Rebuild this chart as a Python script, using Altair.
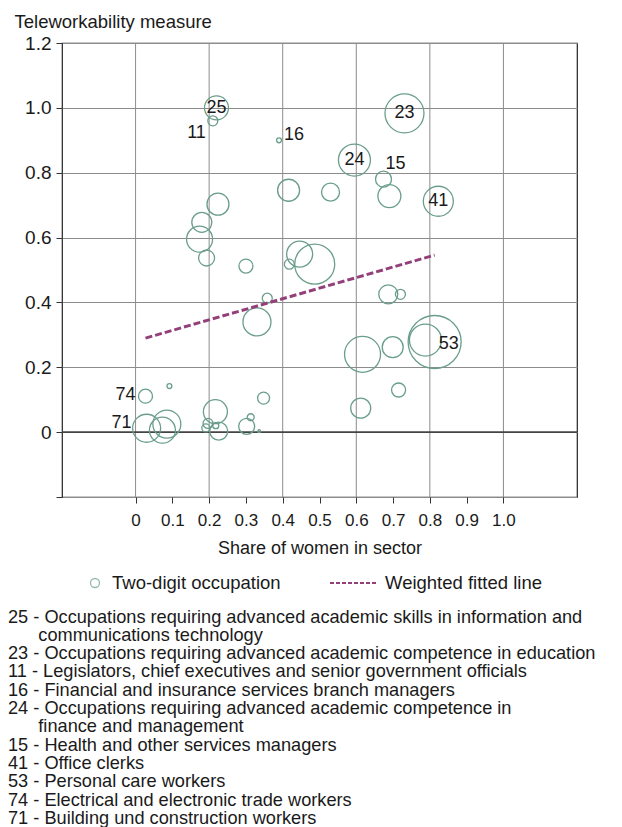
import altair as alt
import pandas as pd

FONT = "Liberation Sans"
TEXT = "#1a1a1a"
BUBBLE = "#6a9e8a"
FIT = "#93407a"

# ---- data ----
codes = ["25", "11", "16", "23", "24", "15", "", "41", "", "", "", "", "", "",
         "", "", "", "", "", "", "", "", "", "", "", "53", "", "", "74", "",
         "71", "", "", "", "", "", "", "", "", "", "", ""]
share_women = [0.22, 0.21, 0.39, 0.731, 0.595, 0.674, 0.69, 0.823, 0.53, 0.416,
               0.224, 0.18, 0.174, 0.193, 0.30, 0.418, 0.446, 0.487, 0.358, 0.33,
               0.687, 0.72, 0.617, 0.699, 0.788, 0.813, 0.715, 0.612, 0.027, 0.092,
               0.03, 0.073, 0.085, 0.217, 0.197, 0.191, 0.218, 0.226, 0.302, 0.313,
               0.336, 0.348]
telework = [1.00, 0.96, 0.90, 0.983, 0.839, 0.78, 0.728, 0.712, 0.74, 0.746,
            0.703, 0.647, 0.595, 0.537, 0.512, 0.518, 0.549, 0.518, 0.413, 0.34,
            0.425, 0.425, 0.24, 0.262, 0.284, 0.278, 0.13, 0.074, 0.111, 0.142,
            0.012, 0.006, 0.025, 0.063, 0.027, 0.013, 0.02, 0.003, 0.018, 0.046,
            0.003, 0.105]
employment = [144, 25, 6, 380, 256, 64, 132, 225, 81, 121,
              121, 100, 169, 64, 49, 25, 169, 400, 25, 196,
              90, 25, 324, 110, 256, 702, 49, 100, 49, 6,
              196, 169, 196, 144, 25, 16, 9, 81, 64, 12,
              2, 36]

fit_share = [0.027, 0.813]
fit_telework = [0.29, 0.546]

x_ticks = [0.0, 0.1, 0.2, 0.3, 0.4, 0.5, 0.6, 0.7, 0.8, 0.9, 1.0]
x_grid = [0.0, 0.2, 0.4, 0.6, 0.8, 1.0]
y_ticks = [-0.2, 0.0, 0.2, 0.4, 0.6, 0.8, 1.0, 1.2]

# zero-width space first so the hanging indent is not trimmed away
INDENT = "\u200b" + "\u00a0" * 6
footnotes = [
    "25 - Occupations requiring advanced academic skills in information and",
    INDENT + "communications technology",
    "23 - Occupations requiring advanced academic competence in education",
    "11 - Legislators, chief executives and senior government officials",
    "16 - Financial and insurance services branch managers",
    "24 - Occupations requiring advanced academic competence in",
    INDENT + "finance and management",
    "15 - Health and other services managers",
    "41 - Office clerks",
    "53 - Personal care workers",
    "74 - Electrical and electronic trade workers",
    "71 - Building und construction workers",
]

legend_items = ["Two-digit occupation", "Weighted fitted line"]

# ---- tables ----
bubbles = pd.DataFrame({"code": codes, "share": share_women,
                        "telework": telework, "employment": employment})
fit_df = pd.DataFrame({"share": fit_share, "telework": fit_telework})
xgrid_df = pd.DataFrame({"share": x_grid})
zero_df = pd.DataFrame({"telework": [0.0]})

W, H = 515, 454

xs = alt.Scale(domain=[-0.2, 1.2], nice=False, zero=False)
ys = alt.Scale(domain=[-0.2, 1.2], nice=False, zero=False)

x_axis = alt.Axis(values=x_ticks,
                  labelExpr="datum.value == 0 ? '0' : format(datum.value, '.1f')",
                  title="Share of women in sector", grid=False, domain=False,
                  tickSize=6, tickColor="#333", labelFontSize=17, labelFont=FONT,
                  labelColor=TEXT, labelPadding=9, titleFontSize=18, titleFont=FONT,
                  titleColor=TEXT, titleFontWeight="normal", titlePadding=11)
y_axis = alt.Axis(values=y_ticks,
                  labelExpr="datum.value < -0.01 ? '' : (abs(datum.value) < 1e-9 ? '0' : format(datum.value, '.1f'))",
                  grid=True, gridColor="#8c8c8c", gridWidth=1, domain=False,
                  tickSize=6, tickColor="#333", labelFontSize=19, labelFont=FONT,
                  labelColor=TEXT, labelPadding=5,
                  title="Teleworkability measure", titleAngle=0, titleAlign="left",
                  titleBaseline="middle", titleX=-48, titleY=-22, titleFontSize=18.5,
                  titleFont=FONT, titleColor=TEXT, titleFontWeight="normal")

x_enc = alt.X("share:Q", scale=xs, axis=x_axis)
y_enc = alt.Y("telework:Q", scale=ys, axis=y_axis)

xgrid = alt.Chart(xgrid_df).mark_rule(color="#8c8c8c", strokeWidth=1).encode(x=x_enc)
zero = alt.Chart(zero_df).mark_rule(color="#444", strokeWidth=1.6).encode(y=y_enc)

circles = alt.Chart(bubbles).mark_point(shape="circle", filled=False, color=BUBBLE,
                                        strokeWidth=1.3, opacity=1).encode(
    x=x_enc, y=y_enc,
    size=alt.Size("employment:Q", scale=alt.Scale(domain=[0, 700], range=[0, 2800]),
                  legend=None),
)

fit = alt.Chart(fit_df).mark_line(color=FIT, strokeWidth=3, strokeDash=[7, 3]).encode(
    x=x_enc, y=y_enc)

label_styles = [
    (["25", "23", "24", "41"], "center", 0, 0),
    (["53"], "left", 4, 2),
    (["15"], "left", 2, -15),
    (["16"], "left", 5, -5),
    (["11"], "right", -7, 12),
    (["74"], "right", -10, -1),
    (["71"], "right", -15, -5),
]
label_layers = []
for group, align, dx, dy in label_styles:
    label_layers.append(
        alt.Chart(bubbles).transform_filter(
            alt.FieldOneOfPredicate(field="code", oneOf=group)
        ).mark_text(align=align, baseline="middle", dx=dx, dy=dy, fontSize=18,
                    font=FONT, color=TEXT).encode(x=x_enc, y=y_enc, text="code:N")
    )

# manual legend below the axis title
LY = H + 86
leg1 = pd.DataFrame({"label": [legend_items[0]]})
leg2 = pd.DataFrame({"label": [legend_items[1]]})
leg_sym = alt.Chart(leg1).mark_point(shape="circle", filled=False, color=BUBBLE,
                                     strokeWidth=1.3, size=81).encode(
    x=alt.value(33), y=alt.value(LY))
leg_txt1 = alt.Chart(leg1).mark_text(align="left", baseline="middle", fontSize=18.5,
                                     font=FONT, color=TEXT).encode(
    x=alt.value(50), y=alt.value(LY), text="label:N")
leg_line = alt.Chart(leg2).mark_rule(color=FIT, strokeWidth=2, strokeDash=[4, 2]).encode(
    x=alt.value(268), x2=alt.value(314), y=alt.value(LY))
leg_txt2 = alt.Chart(leg2).mark_text(align="left", baseline="middle", fontSize=18.5,
                                     font=FONT, color=TEXT).encode(
    x=alt.value(323), y=alt.value(LY), text="label:N")

chart = alt.layer(
    xgrid, zero, circles, fit, *label_layers, leg_sym, leg_txt1, leg_line, leg_txt2
).properties(
    width=W, height=H,
    padding={"left": 0, "top": 4, "right": 0, "bottom": 0},
    title=alt.TitleParams(text=footnotes, orient="bottom", anchor="start",
                          frame="group", dx=-54, offset=16, fontSize=18.2,
                          lineHeight=18.3, font=FONT, fontWeight="normal", color=TEXT),
).configure_view(stroke="#222", strokeWidth=1.2)

chart.save("out.html", embed_options={"renderer": "svg", "actions": False})
